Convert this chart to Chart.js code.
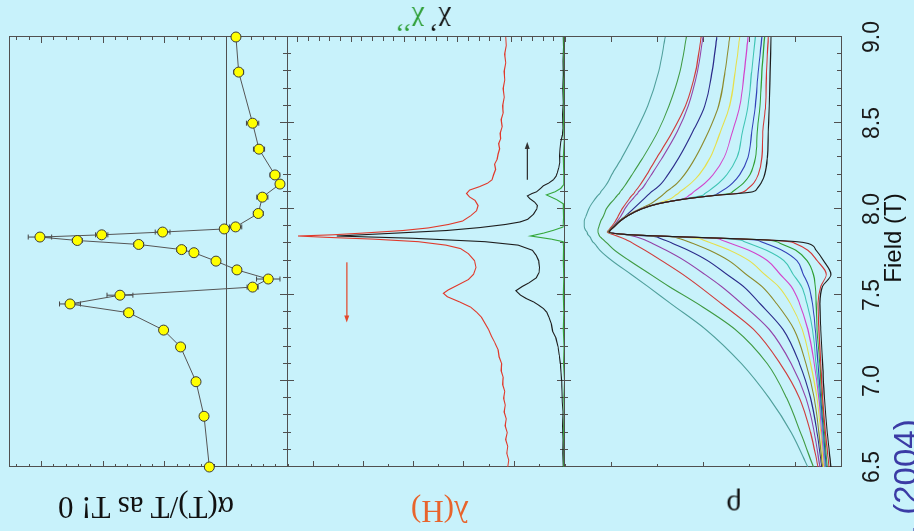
<!DOCTYPE html>
<html>
<head>
<meta charset="utf-8">
<script src="https://cdn.jsdelivr.net/npm/chart.js@4/dist/chart.umd.min.js"></script>
<style>
  html, body { margin: 0; padding: 0; }
  body { width: 914px; height: 531px; overflow: hidden; position: relative; background: #c8f2fb; }
  /* the figure is laid out with field along x, then turned a quarter turn */
  #stage { position: absolute; left: 0; top: 0; width: 531px; height: 914px;
           transform-origin: 0 0; transform: translateY(531px) rotate(-90deg); }
  #stage canvas { position: absolute; left: 0; top: 0; }
  .lbl { position: absolute; white-space: nowrap; line-height: 1; }
  .flip { transform: translate(-50%, -50%) rotate(180deg); }
  .up { transform: translate(-50%, -50%) rotate(-90deg); }
  .serif { font-family: "Liberation Serif", "DejaVu Serif", serif; }
  .sans { font-family: "Liberation Sans", Arial, sans-serif; }
</style>
</head>
<body>
<div id="stage">
  <canvas id="alphaPanel" width="531" height="914"></canvas>
  <canvas id="suscPanel" width="531" height="914"></canvas>
  <canvas id="rhoPanel" width="531" height="914"></canvas>
</div>

<div class="lbl flip serif" style="left:146px; top:507px; font-size:31px; color:#111;">α(T)/T as T! 0</div>
<div class="lbl flip serif" style="left:440px; top:511px; font-size:31px; color:#e8642c;">λ(H)</div>
<div class="lbl flip serif" style="left:734px; top:506px; font-size:31px; color:#111;">ρ</div>
<div class="lbl flip serif" style="left:423px; top:22px; font-size:28px;"><span style="color:#111;">χ’</span> <span style="color:#2e9e36;">χ’’</span></div>
<div class="lbl up sans" style="left:893px; top:238px; font-size:24px; color:#111;">Field (T)</div>
<div class="lbl up sans" style="left:905px; top:567px; font-size:33px; color:#3b3ba5;">Grigera <i>et al.</i> (2004)</div>

<script>
// ---- alpha(T)/T, T -> 0 ----
const alphaField = [9.0, 8.796, 8.499, 8.348, 8.198, 8.145, 8.069, 7.974, 7.896, 7.884, 7.866, 7.850, 7.837, 7.817,
  7.794, 7.764, 7.746, 7.697, 7.646, 7.593, 7.546, 7.499, 7.448, 7.397, 7.296, 7.198, 6.996, 6.795, 6.5];
const alphaValue = [-0.81, -1.03, -2.16, -2.68, -3.97, -4.38, -2.95, -2.62, -0.78, 0.14, 5.14, 10.08, 15.09, 12.06,
  7.08, 3.60, 2.60, 0.81, -0.89, -3.43, -2.16, 8.60, 12.65, 7.89, 5.06, 3.68, 2.43, 1.78, 1.35];
const alphaError = [0.3, 0.4, 0.5, 0.45, 0.4, 0.3, 0.45, 0.4, 0.5, 0.3, 0.6, 0.5, 0.95, 0.4,
  0.4, 0.4, 0.3, 0.3, 0.3, 0.95, 0.45, 1.05, 0.85, 0.4, 0.3, 0.3, 0.3, 0.3, 0.3];

// ---- lambda(H) (left axis) ----
const lambdaField = [6.50, 6.54, 6.58, 6.62, 6.66, 6.70, 6.74, 6.78, 6.82, 6.86, 6.90, 6.94, 6.98, 7.02,
  7.06, 7.10, 7.14, 7.18, 7.22, 7.26, 7.30, 7.34, 7.37, 7.40, 7.43, 7.46, 7.49, 7.51, 7.53, 7.56, 7.59, 7.62,
  7.66, 7.70, 7.74, 7.77, 7.79, 7.81, 7.825, 7.835, 7.843, 7.85, 7.86, 7.875, 7.89,
  7.91, 7.93, 7.96, 7.99, 8.02, 8.05, 8.07, 8.09, 8.11, 8.13, 8.15, 8.17,
  8.20, 8.23, 8.26, 8.29, 8.32, 8.35, 8.38, 8.41, 8.44, 8.48,
  8.52, 8.56, 8.60, 8.65, 8.70, 8.75, 8.80, 8.85, 8.90, 8.95, 9.00];
const lambdaValue = [1.12, 1.10, 1.14, 1.12, 1.16, 1.13, 1.17, 1.15, 1.19, 1.17, 1.20, 1.18, 1.22, 1.21,
  1.25, 1.24, 1.29, 1.31, 1.37, 1.44, 1.50, 1.58, 1.64, 1.74, 1.86, 2.08, 2.32, 2.40, 2.30, 2.10, 1.90, 1.80,
  1.75, 1.78, 1.90, 2.06, 2.35, 2.90, 3.80, 4.70, 5.29, 4.60, 4.00, 3.20, 2.70,
  2.30, 2.02, 1.86, 1.74, 1.71, 1.77, 1.88, 1.94, 1.88, 1.68, 1.52, 1.43,
  1.40, 1.36, 1.38, 1.33, 1.31, 1.28, 1.30, 1.26, 1.27, 1.23,
  1.25, 1.21, 1.22, 1.19, 1.21, 1.18, 1.19, 1.16, 1.18, 1.15, 1.16];

// ---- chi' and chi'' (right axis) ----
const chiRealField = [6.50, 6.58, 6.66, 6.74, 6.82, 6.88, 6.94, 7.00, 7.05, 7.10,
  7.15, 7.20, 7.25, 7.29, 7.33, 7.37, 7.40, 7.42, 7.44, 7.46,
  7.48, 7.50, 7.525, 7.55, 7.57, 7.60, 7.63, 7.66, 7.70, 7.73,
  7.76, 7.79, 7.81, 7.83, 7.843, 7.86, 7.875, 7.892, 7.91, 7.925,
  7.94, 7.97, 8.00, 8.02, 8.04, 8.06, 8.076, 8.09, 8.10, 8.12,
  8.135, 8.15, 8.17, 8.19, 8.21, 8.24, 8.27, 8.31, 8.35, 8.39,
  8.43, 8.47, 8.55, 8.62, 8.70, 8.78, 8.86, 8.94, 9.00];
const chiRealValue = [0.07, 0.11, 0.08, 0.13, 0.10, 0.16, 0.19, 0.22, 0.28, 0.34,
  0.44, 0.56, 0.76, 1.07, 1.18, 1.40, 1.62, 1.90, 2.35, 2.85,
  3.55, 4.10, 4.50, 3.90, 3.30, 2.60, 2.35, 2.30, 2.38, 2.60,
  2.95, 4.30, 7.40, 14.2, 21.3, 15.7, 11.0, 7.9, 5.5, 4.1,
  3.4, 2.85, 2.55, 2.50, 2.75, 3.20, 3.44, 3.00, 2.57, 2.20,
  1.94, 1.45, 1.00, 0.75, 0.63, 0.50, 0.40, 0.42, 0.38, 0.30,
  0.15, 0.10, 0.13, 0.07, 0.11, 0.06, 0.10, 0.05, 0.07];
const chiImagField = [6.50, 6.60, 6.70, 6.80, 6.90, 7.00, 7.10, 7.20, 7.30, 7.40, 7.50, 7.60, 7.70, 7.78,
  7.81, 7.825, 7.843, 7.86, 7.876, 7.895, 7.95, 8.00, 8.03, 8.055, 8.082, 8.10, 8.12, 8.14,
  8.20, 8.30, 8.40, 8.50, 8.60, 8.70, 8.80, 8.90, 9.00];
const chiImagValue = [0.02, -0.03, 0.04, -0.02, 0.03, -0.04, 0.05, 0.00, 0.06, 0.02, 0.07, 0.03, 0.06, 0.05,
  0.08, 1.20, 3.13, 1.90, 1.00, 0.10, 0.04, 0.07, 0.06, 0.70, 1.65, 0.85, 0.30, 0.05,
  0.03, 0.06, -0.02, 0.04, 0.00, 0.05, -0.03, 0.03, 0.01];

// sweep direction arrows: [axis, level, from field, to field]
const lambdaArrow = ['y', 4.32, 7.69, 7.34];
const chiArrow = ['y2', 3.44, 8.17, 8.39];

// ---- resistivity, one curve per temperature ----
const rhoField = [6.5, 6.7, 6.9, 7.1, 7.3, 7.45, 7.55, 7.62, 7.7, 7.76, 7.8, 7.81, 7.82, 7.83, 7.84, 7.85,
  7.866, 7.88, 7.9, 7.93, 7.96, 8.0, 8.03, 8.06, 8.08, 8.09, 8.1, 8.12, 8.15, 8.2, 8.3, 8.45, 8.6, 8.8, 9.0];
const rhoTeal = [0.86, 1.04, 1.28, 1.58, 1.97, 2.35, 2.60, 2.78, 2.99, 3.12, 3.18, 3.20, 3.21, 3.22, 3.23, 3.25,
  3.26, 3.28, 3.29, 3.29, 3.27, 3.24, 3.21, 3.17, 3.14, 3.12, 3.11, 3.08, 3.04, 2.99, 2.88, 2.73, 2.60, 2.48, 2.41];
const rhoGreen = [0.80, 0.94, 1.09, 1.30, 1.65, 2.06, 2.37, 2.57, 2.80, 2.96, 3.04, 3.06, 3.08, 3.10, 3.12, 3.13,
  3.14, 3.14, 3.13, 3.11, 3.08, 3.05, 3.01, 2.96, 2.93, 2.91, 2.90, 2.87, 2.83, 2.77, 2.65, 2.49, 2.37, 2.25, 2.18];
const rhoRed = [0.75, 0.83, 0.95, 1.16, 1.45, 1.80, 2.04, 2.22, 2.45, 2.63, 2.76, 2.79, 2.83, 2.87, 2.92, 2.97,
  3.04, 3.02, 2.99, 2.95, 2.92, 2.88, 2.84, 2.80, 2.77, 2.75, 2.74, 2.71, 2.67, 2.61, 2.50, 2.33, 2.19, 2.08, 2.02];
const rhoPurple = [0.73, 0.79, 0.88, 1.04, 1.28, 1.58, 1.80, 1.98, 2.20, 2.40, 2.55, 2.59, 2.63, 2.68, 2.74, 2.83,
  3.03, 3.01, 2.97, 2.93, 2.89, 2.85, 2.81, 2.76, 2.73, 2.71, 2.70, 2.66, 2.62, 2.56, 2.44, 2.28, 2.16, 2.06, 2.00];
const rhoNavy = [0.71, 0.76, 0.83, 0.95, 1.13, 1.38, 1.56, 1.74, 1.95, 2.16, 2.33, 2.37, 2.42, 2.47, 2.53, 2.81,
  3.03, 3.01, 2.97, 2.91, 2.84, 2.76, 2.70, 2.64, 2.60, 2.58, 2.56, 2.51, 2.45, 2.38, 2.26, 2.11, 1.98, 1.90, 1.85];
const rhoOlive = [0.70, 0.74, 0.79, 0.88, 1.01, 1.20, 1.36, 1.53, 1.72, 1.93, 2.11, 2.16, 2.21, 2.27, 2.37, 2.80,
  3.03, 3.01, 2.97, 2.91, 2.83, 2.69, 2.57, 2.49, 2.44, 2.42, 2.40, 2.35, 2.28, 2.20, 2.08, 1.94, 1.83, 1.76, 1.71];
const rhoYellow = [0.69, 0.72, 0.76, 0.83, 0.92, 1.05, 1.18, 1.33, 1.50, 1.71, 1.90, 1.95, 2.00, 2.06, 2.36, 2.80,
  3.03, 3.00, 2.96, 2.90, 2.83, 2.68, 2.51, 2.35, 2.30, 2.27, 2.25, 2.20, 2.13, 2.04, 1.92, 1.81, 1.71, 1.65, 1.60];
const rhoMagenta = [0.68, 0.71, 0.74, 0.79, 0.86, 0.95, 1.04, 1.16, 1.30, 1.50, 1.70, 1.75, 1.80, 1.87, 2.35, 2.79,
  3.02, 3.00, 2.96, 2.90, 2.82, 2.68, 2.50, 2.21, 2.15, 2.12, 2.10, 2.05, 1.98, 1.89, 1.77, 1.68, 1.60, 1.55, 1.51];
const rhoCyan = [0.67, 0.70, 0.73, 0.77, 0.81, 0.87, 0.93, 1.02, 1.12, 1.31, 1.50, 1.55, 1.60, 1.82, 2.35, 2.79,
  3.02, 3.00, 2.96, 2.90, 2.82, 2.67, 2.50, 2.19, 2.00, 1.98, 1.95, 1.90, 1.83, 1.74, 1.63, 1.57, 1.51, 1.47, 1.43];
const rhoBlue = [0.66, 0.69, 0.72, 0.75, 0.78, 0.81, 0.85, 0.91, 0.98, 1.14, 1.32, 1.37, 1.43, 1.81, 2.34, 2.78,
  3.02, 3.00, 2.96, 2.90, 2.82, 2.67, 2.49, 2.18, 1.88, 1.84, 1.81, 1.75, 1.68, 1.60, 1.51, 1.47, 1.43, 1.40, 1.36];
const rhoGreen2 = [0.65, 0.68, 0.71, 0.73, 0.76, 0.77, 0.78, 0.80, 0.87, 0.99, 1.16, 1.20, 1.32, 1.80, 2.34, 2.78,
  3.02, 3.00, 2.96, 2.90, 2.82, 2.67, 2.49, 2.18, 1.86, 1.71, 1.68, 1.63, 1.56, 1.49, 1.43, 1.41, 1.38, 1.36, 1.33];
const rhoRed2 = [0.63, 0.67, 0.70, 0.72, 0.74, 0.75, 0.72, 0.66, 0.76, 0.86, 1.00, 1.06, 1.31, 1.80, 2.33, 2.78,
  3.02, 3.00, 2.96, 2.90, 2.82, 2.67, 2.49, 2.17, 1.85, 1.63, 1.56, 1.51, 1.45, 1.40, 1.36, 1.35, 1.32, 1.31, 1.29];
const rhoBlack = [0.61, 0.65, 0.68, 0.70, 0.72, 0.73, 0.70, 0.61, 0.69, 0.77, 0.86, 0.98, 1.30, 1.79, 2.33, 2.78,
  3.02, 3.00, 2.96, 2.90, 2.82, 2.67, 2.49, 2.17, 1.85, 1.62, 1.46, 1.41, 1.37, 1.33, 1.30, 1.29, 1.28, 1.27, 1.26];

const rhoSeries = [
  [rhoBlack, '#1e1e1e'], [rhoRed2, '#d23434'], [rhoGreen2, '#2f9f34'], [rhoBlue, '#3341b8'],
  [rhoCyan, '#3fc4b4'], [rhoMagenta, '#d244cc'], [rhoYellow, '#e6df4a'], [rhoOlive, '#8c8a2c'],
  [rhoNavy, '#2b2b8a'], [rhoPurple, '#9242a8'], [rhoRed, '#cf3b3b'], [rhoGreen, '#3f9a42'], [rhoTeal, '#4f9f9b']
];

const toPoints = (xs, ys) => xs.map((x, i) => ({ x: x, y: ys[i] }));

// frame, inward ticks and optional zero line for one panel
const panelFrame = {
  id: 'panelFrame',
  beforeDatasetsDraw(chart, args, opts) {
    const { ctx, chartArea: a, scales } = chart;
    const x = scales.x;
    ctx.save();
    ctx.strokeStyle = '#505050';
    ctx.lineWidth = 1;
    ctx.strokeRect(Math.round(a.left) + 0.5, Math.round(a.top) + 0.5,
      Math.round(a.right - a.left), Math.round(a.bottom - a.top));
    ctx.beginPath();
    for (let i = 65; i <= 90; i++) {
      const px = Math.round(x.getPixelForValue(i / 10)) + 0.5;
      const len = i % 5 === 0 ? 7 : 4;
      if (opts.fieldEdges.includes('top')) { ctx.moveTo(px, a.top); ctx.lineTo(px, a.top + len); }
      if (opts.fieldEdges.includes('bottom')) { ctx.moveTo(px, a.bottom); ctx.lineTo(px, a.bottom - len); }
    }
    for (const t of opts.valueTicks) {
      const s = scales[t.axis];
      const k0 = Math.ceil(s.min / t.step - 1e-6);
      const k1 = Math.floor(s.max / t.step + 1e-6);
      for (let k = k0; k <= k1; k++) {
        const py = Math.round(s.getPixelForValue(k * t.step)) + 0.5;
        const len = k % t.majorEvery === 0 ? t.major : t.minor;
        if (t.side === 'left') { ctx.moveTo(a.left, py); ctx.lineTo(a.left + len, py); }
        else { ctx.moveTo(a.right, py); ctx.lineTo(a.right - len, py); }
      }
    }
    if (opts.zeroLine) {
      const py = Math.round(scales.y.getPixelForValue(0)) + 0.5;
      ctx.moveTo(a.left, py);
      ctx.lineTo(a.right, py);
    }
    ctx.stroke();
    ctx.restore();
  }
};

const errorBars = {
  id: 'errorBars',
  beforeDatasetsDraw(chart) {
    const { ctx, scales: { x, y } } = chart;
    ctx.save();
    ctx.strokeStyle = '#454545';
    ctx.lineWidth = 1;
    ctx.beginPath();
    alphaField.forEach((f, i) => {
      const px = x.getPixelForValue(f);
      const lo = y.getPixelForValue(alphaValue[i] - alphaError[i]);
      const hi = y.getPixelForValue(alphaValue[i] + alphaError[i]);
      ctx.moveTo(px, lo); ctx.lineTo(px, hi);
      ctx.moveTo(px - 2.5, lo); ctx.lineTo(px + 2.5, lo);
      ctx.moveTo(px - 2.5, hi); ctx.lineTo(px + 2.5, hi);
    });
    ctx.stroke();
    ctx.restore();
  }
};

const sweepArrows = {
  id: 'sweepArrows',
  afterDatasetsDraw(chart) {
    const { ctx, scales } = chart;
    [[lambdaArrow, '#e2482c'], [chiArrow, '#333333']].forEach(([arr, color]) => {
      const [axis, level, from, to] = arr;
      const x1 = scales.x.getPixelForValue(from);
      const x2 = scales.x.getPixelForValue(to);
      const py = scales[axis].getPixelForValue(level);
      const dir = Math.sign(x2 - x1);
      ctx.save();
      ctx.strokeStyle = color;
      ctx.fillStyle = color;
      ctx.lineWidth = 1.2;
      ctx.beginPath();
      ctx.moveTo(x1, py);
      ctx.lineTo(x2 - dir * 5, py);
      ctx.stroke();
      ctx.beginPath();
      ctx.moveTo(x2, py);
      ctx.lineTo(x2 - dir * 7, py - 2.5);
      ctx.lineTo(x2 - dir * 7, py + 2.5);
      ctx.closePath();
      ctx.fill();
      ctx.restore();
    });
  }
};

function baseOptions(top, bottom) {
  return {
    responsive: false,
    animation: false,
    events: [],
    layout: { padding: { left: 64, right: 37, top: top, bottom: bottom } },
    plugins: { legend: { display: false }, tooltip: { enabled: false } },
    elements: { point: { radius: 0 }, line: { borderWidth: 1.1, tension: 0 } }
  };
}

const fieldAxis = { type: 'linear', min: 6.5, max: 9.0, display: false };

// top panel: alpha(T)/T
const alphaOpts = baseOptions(9, 627);
alphaOpts.scales = { x: fieldAxis, y: { type: 'linear', min: -4.95, max: 17.6, display: false } };
alphaOpts.plugins.panelFrame = {
  fieldEdges: ['bottom'], zeroLine: true,
  valueTicks: [
    { axis: 'y', side: 'left', step: 1, majorEvery: 5, minor: 3, major: 6 },
    { axis: 'y', side: 'right', step: 1, majorEvery: 5, minor: 3, major: 6 }
  ]
};
new Chart(document.getElementById('alphaPanel'), {
  type: 'scatter',
  data: {
    datasets: [{
      data: toPoints(alphaField, alphaValue),
      showLine: true,
      borderColor: '#555555',
      borderWidth: 1,
      pointRadius: 5,
      pointBackgroundColor: '#ffff00',
      pointBorderColor: '#3a3a3a',
      pointBorderWidth: 1,
      clip: false
    }]
  },
  options: alphaOpts,
  plugins: [panelFrame, errorBars]
});

// middle panel: lambda(H) with chi', chi''
const suscOpts = baseOptions(287, 350);
suscOpts.scales = {
  x: fieldAxis,
  y: { type: 'linear', min: 0, max: 5.51, display: false },
  y2: { type: 'linear', position: 'right', min: 0, max: 25.96, display: false }
};
suscOpts.plugins.panelFrame = {
  fieldEdges: ['top', 'bottom'],
  valueTicks: [
    { axis: 'y', side: 'left', step: 0.5, majorEvery: 2, minor: 3, major: 6 },
    { axis: 'y2', side: 'right', step: 1, majorEvery: 5, minor: 4, major: 5 }
  ]
};
new Chart(document.getElementById('suscPanel'), {
  type: 'scatter',
  data: {
    datasets: [
      { data: toPoints(chiImagField, chiImagValue), yAxisID: 'y2', showLine: true, borderColor: '#36a83c', borderWidth: 1.1 },
      { data: toPoints(chiRealField, chiRealValue), yAxisID: 'y2', showLine: true, borderColor: '#1e1e1e', borderWidth: 1.1 },
      { data: toPoints(lambdaField, lambdaValue), yAxisID: 'y', showLine: true, borderColor: '#e03a2c', borderWidth: 1.1 }
    ]
  },
  options: suscOpts,
  plugins: [panelFrame, sweepArrows]
});

// bottom panel: resistivity, carries the field axis
const rhoOpts = baseOptions(564, 0);
rhoOpts.scales = {
  x: {
    type: 'linear', min: 6.5, max: 9.0, position: 'bottom',
    afterFit(scale) { scale.height = 73; },
    grid: { display: false },
    border: { display: false },
    ticks: {
      stepSize: 0.5, maxRotation: 0, autoSkip: false, padding: 10, color: '#1a1a1a',
      font: { family: '"Liberation Sans", Arial, sans-serif', size: 23 },
      callback: v => v.toFixed(1)
    }
  },
  y: { type: 'linear', min: 0.5, max: 3.51, display: false }
};
rhoOpts.plugins.panelFrame = {
  fieldEdges: ['top', 'bottom'],
  valueTicks: [
    { axis: 'y', side: 'left', step: 0.5, majorEvery: 2, minor: 3, major: 5 },
    { axis: 'y', side: 'right', step: 0.5, majorEvery: 2, minor: 5, major: 5 }
  ]
};
new Chart(document.getElementById('rhoPanel'), {
  type: 'scatter',
  data: {
    datasets: rhoSeries.map(([vals, color]) => ({
      data: toPoints(rhoField, vals),
      showLine: true,
      borderColor: color,
      borderWidth: 1.1,
      cubicInterpolationMode: 'monotone'
    }))
  },
  options: rhoOpts,
  plugins: [panelFrame]
});
</script>
</body>
</html>
